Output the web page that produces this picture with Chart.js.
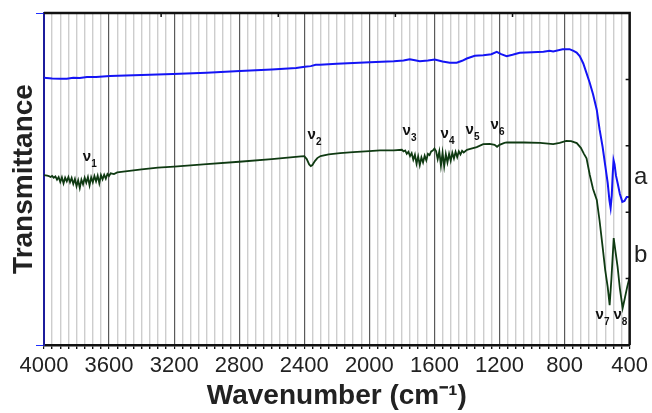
<!DOCTYPE html>
<html>
<head>
<meta charset="utf-8">
<script src="https://cdn.jsdelivr.net/npm/chart.js@4.4.1/dist/chart.umd.min.js"></script>
<style>
    html, body { margin: 0; padding: 0; background: #fff; }
</style>
</head>
<body>
<canvas id="Chart" width="652" height="413"></canvas>
<script>
// spectrum a (blue)
const waveA = [4000, 3950, 3900, 3860, 3820, 3780, 3736, 3680, 3595, 3400, 3207, 3000, 2796, 2600, 2450, 2397, 2360, 2330, 2304, 2200,
    1997, 1850, 1790, 1752, 1720, 1690, 1640, 1598, 1550, 1506, 1463, 1430, 1401, 1352, 1300, 1250, 1217, 1190, 1156, 1120,
    1076, 1000, 930, 892, 870, 812, 770, 745, 726, 707, 685, 665, 645, 625, 602, 585, 566, 550, 535, 524,
    517, 510, 504, 499, 493, 484, 474, 460, 445, 432, 418, 400];
const transA = [80.5, 80.3, 80.2, 80.2, 80.5, 80.4, 80.7, 80.7, 81.0, 81.3, 81.6, 82.0, 82.5, 83.0, 83.4, 83.8, 84.0, 84.4, 84.4, 84.7,
    85.2, 85.5, 85.7, 86.1, 85.8, 85.5, 85.7, 86.0, 85.4, 85.0, 85.0, 85.6, 86.3, 87.1, 87.3, 87.6, 88.3, 87.6, 87.0, 87.4,
    88.0, 88.2, 88.3, 88.6, 88.4, 89.1, 89.1, 88.6, 88.1, 87.0, 84.8, 81.9, 78.9, 75.5, 70.8, 65.0, 59.6, 54.0, 48.8, 43.5,
    41.3, 45.0, 51.5, 55.7, 54.5, 51.0, 48.8, 45.5, 43.1, 43.4, 44.6, 44.6];

// spectrum b (green)
const waveB = [4000, 3990, 3980, 3970, 3960, 3950, 3940, 3930, 3920, 3910, 3900, 3890, 3880, 3870, 3860, 3850, 3840, 3830, 3820, 3810,
    3800, 3790, 3780, 3770, 3760, 3750, 3740, 3730, 3720, 3710, 3700, 3690, 3680, 3670, 3660, 3650, 3640, 3630, 3620, 3610,
    3600, 3590, 3570, 3550, 3500, 3400, 3300, 3200, 3000, 2800, 2600, 2420, 2400, 2385, 2370, 2360, 2350, 2335, 2320, 2300,
    2250, 2180, 2100, 2000, 1935, 1850, 1800, 1790, 1780, 1770, 1760, 1750, 1740, 1730, 1720, 1710, 1700, 1690, 1680, 1670,
    1660, 1650, 1640, 1630, 1620, 1610, 1600, 1590, 1580, 1570, 1560, 1550, 1540, 1530, 1520, 1510, 1500, 1490, 1480, 1470,
    1460, 1450, 1440, 1430, 1420, 1400, 1385, 1340, 1300, 1260, 1230, 1215, 1200, 1170, 1155, 1050, 950, 870, 830, 790,
    760, 725, 700, 680, 665, 645, 625, 602, 585, 566, 550, 535, 523, 512, 498, 488, 474, 460, 443, 430,
    415, 400];
const transB = [51.2, 51.1, 51.0, 50.9, 50.6, 50.9, 50.4, 50.8, 49.8, 50.6, 49.1, 50.5, 48.7, 50.4, 49.3, 50.6, 49.0, 50.3, 48.5, 50.0,
    47.8, 49.6, 47.3, 49.8, 48.4, 50.4, 48.9, 50.6, 48.1, 50.5, 49.0, 50.9, 49.3, 51.0, 48.7, 51.2, 49.9, 51.3, 50.1, 51.5,
    50.9, 51.7, 51.5, 52.0, 52.3, 52.9, 53.4, 53.7, 54.5, 55.2, 56.0, 56.8, 56.9, 56.0, 54.4, 53.9, 54.2, 55.4, 56.3, 56.9,
    57.4, 57.8, 58.1, 58.4, 58.6, 58.6, 58.8, 58.3, 58.6, 57.6, 58.2, 56.9, 57.8, 55.8, 57.3, 54.6, 56.8, 54.2, 56.5, 55.0,
    57.0, 55.6, 57.6, 57.2, 58.3, 58.6, 59.2, 58.4, 56.0, 58.3, 54.0, 57.9, 53.8, 57.5, 55.0, 57.6, 55.5, 57.9, 56.2, 58.2,
    56.6, 58.3, 57.4, 58.5, 58.0, 58.8, 59.0, 59.6, 60.5, 60.6, 60.3, 59.7, 60.3, 60.9, 61.0, 61.0, 60.9, 60.5, 60.9, 61.5,
    61.4, 60.8, 59.4, 57.5, 56.2, 51.2, 47.0, 43.7, 37.5, 29.5, 22.5, 17.5, 12.0, 20.0, 32.2, 28.5, 23.5, 17.0, 11.1, 14.0,
    17.5, 20.5];

const xTicks = [4000, 3600, 3200, 2800, 2400, 2000, 1600, 1200, 800, 400];

// band labels
const bandNames = ['1', '2', '3', '4', '5', '6', '7', '8'];
const bandWave = [3736, 2354, 1770, 1537, 1383, 1229, 584, 474];
const bandLevel = [56.6, 63.3, 64.5, 63.6, 64.8, 66.3, 9.0, 9.0];

const seriesNames = ['a', 'b'];
const seriesLevel = [50.6, 27.1];

const FONT = "'Liberation Sans', Arial, sans-serif";

function toPoints(xs, ys) {
    return xs.map(function (w, i) { return {x: w, y: ys[i]}; });
}

const decor = {
    id: 'decor',
    afterDatasetsDraw(chart) {
        const ctx = chart.ctx;
        const a = chart.chartArea;
        const x = chart.scales.x;
        const y = chart.scales.y;
        ctx.save();
        ctx.strokeStyle = '#111';
        ctx.lineWidth = 2.5;
        ctx.beginPath();
        ctx.moveTo(a.left, a.top);
        ctx.lineTo(a.right, a.top);
        ctx.lineTo(a.right, a.bottom);
        ctx.stroke();
        // small inner ticks on top and right
        ctx.lineWidth = 1.5;
        ctx.beginPath();
        for (let i = 1; i < 5; i++) {
            const tx = a.left + (a.right - a.left) * i / 5;
            ctx.moveTo(tx, a.top);
            ctx.lineTo(tx, a.top + 4);
            const ty = a.top + (a.bottom - a.top) * i / 5;
            ctx.moveTo(a.right, ty);
            ctx.lineTo(a.right - 4, ty);
        }
        ctx.stroke();

        ctx.fillStyle = '#111';
        ctx.textAlign = 'center';
        ctx.textBaseline = 'middle';
        for (let i = 0; i < bandNames.length; i++) {
            const px = x.getPixelForValue(bandWave[i]);
            const py = y.getPixelForValue(bandLevel[i]);
            ctx.font = 'bold 15px ' + FONT;
            ctx.fillText('\u03bd', px, py);
            ctx.font = 'bold 10px ' + FONT;
            ctx.fillText(bandNames[i], px + 7, py + 7);
        }
        ctx.fillStyle = '#222';
        ctx.font = '24px ' + FONT;
        for (let i = 0; i < seriesNames.length; i++) {
            ctx.fillText(seriesNames[i], a.right + 11, y.getPixelForValue(seriesLevel[i]));
        }
        ctx.restore();
    }
};

let chart = new Chart(document.getElementById('Chart'), {
    type: 'line',
    data: {
        datasets: [{
            label: 'a',
            data: toPoints(waveA, transA),
            borderColor: '#1414f5',
            borderWidth: 2,
            pointRadius: 0,
            tension: 0
        }, {
            label: 'b',
            data: toPoints(waveB, transB),
            borderColor: '#0f3a12',
            borderWidth: 1.8,
            pointRadius: 0,
            tension: 0
        }]
    },
    options: {
        responsive: false,
        devicePixelRatio: 1,
        animation: false,
        layout: {padding: {top: 13, right: 22, left: 0, bottom: 0}},
        plugins: {legend: {display: false}, tooltip: {enabled: false}},
        scales: {
            x: {
                type: 'linear',
                reverse: true,
                min: 400,
                max: 4000,
                afterFit: function (scale) { scale.height = 68; },
                ticks: {
                    stepSize: 50,
                    autoSkip: false,
                    maxRotation: 0,
                    padding: 4,
                    color: '#222',
                    font: {family: FONT, size: 22},
                    callback: function (v) { return xTicks.indexOf(v) >= 0 ? String(v) : ''; }
                },
                grid: {
                    color: function (c) { return c.tick && c.tick.value % 400 === 0 ? '#5a5a5a' : '#cdcdcd'; },
                    lineWidth: function (c) { return c.tick && c.tick.value % 400 === 0 ? 1.2 : 1.4; },
                    tickColor: '#111',
                    tickLength: 4
                },
                border: {color: '#111', width: 2.5},
                title: {
                    display: true,
                    text: 'Wavenumber (cm\u207b\u00b9)',
                    color: '#222',
                    font: {family: FONT, size: 28, weight: 'bold'},
                    padding: {top: 0, bottom: 0}
                }
            },
            y: {
                min: 0,
                max: 100,
                afterFit: function (scale) { scale.width = 44; },
                ticks: {stepSize: 20, display: false},
                grid: {
                    drawOnChartArea: false,
                    tickLength: 8,
                    tickColor: function (c) { return c.tick && (c.tick.value === 0 || c.tick.value === 100) ? '#1f2fff' : 'rgba(0,0,0,0)'; }
                },
                border: {color: '#1c1c9c', width: 2},
                title: {
                    display: true,
                    text: 'Transmittance',
                    color: '#222',
                    font: {family: FONT, size: 28, weight: 'bold'},
                    padding: {top: 7, bottom: 0}
                }
            }
        }
    },
    plugins: [decor]
});
</script>
</body>
</html>
